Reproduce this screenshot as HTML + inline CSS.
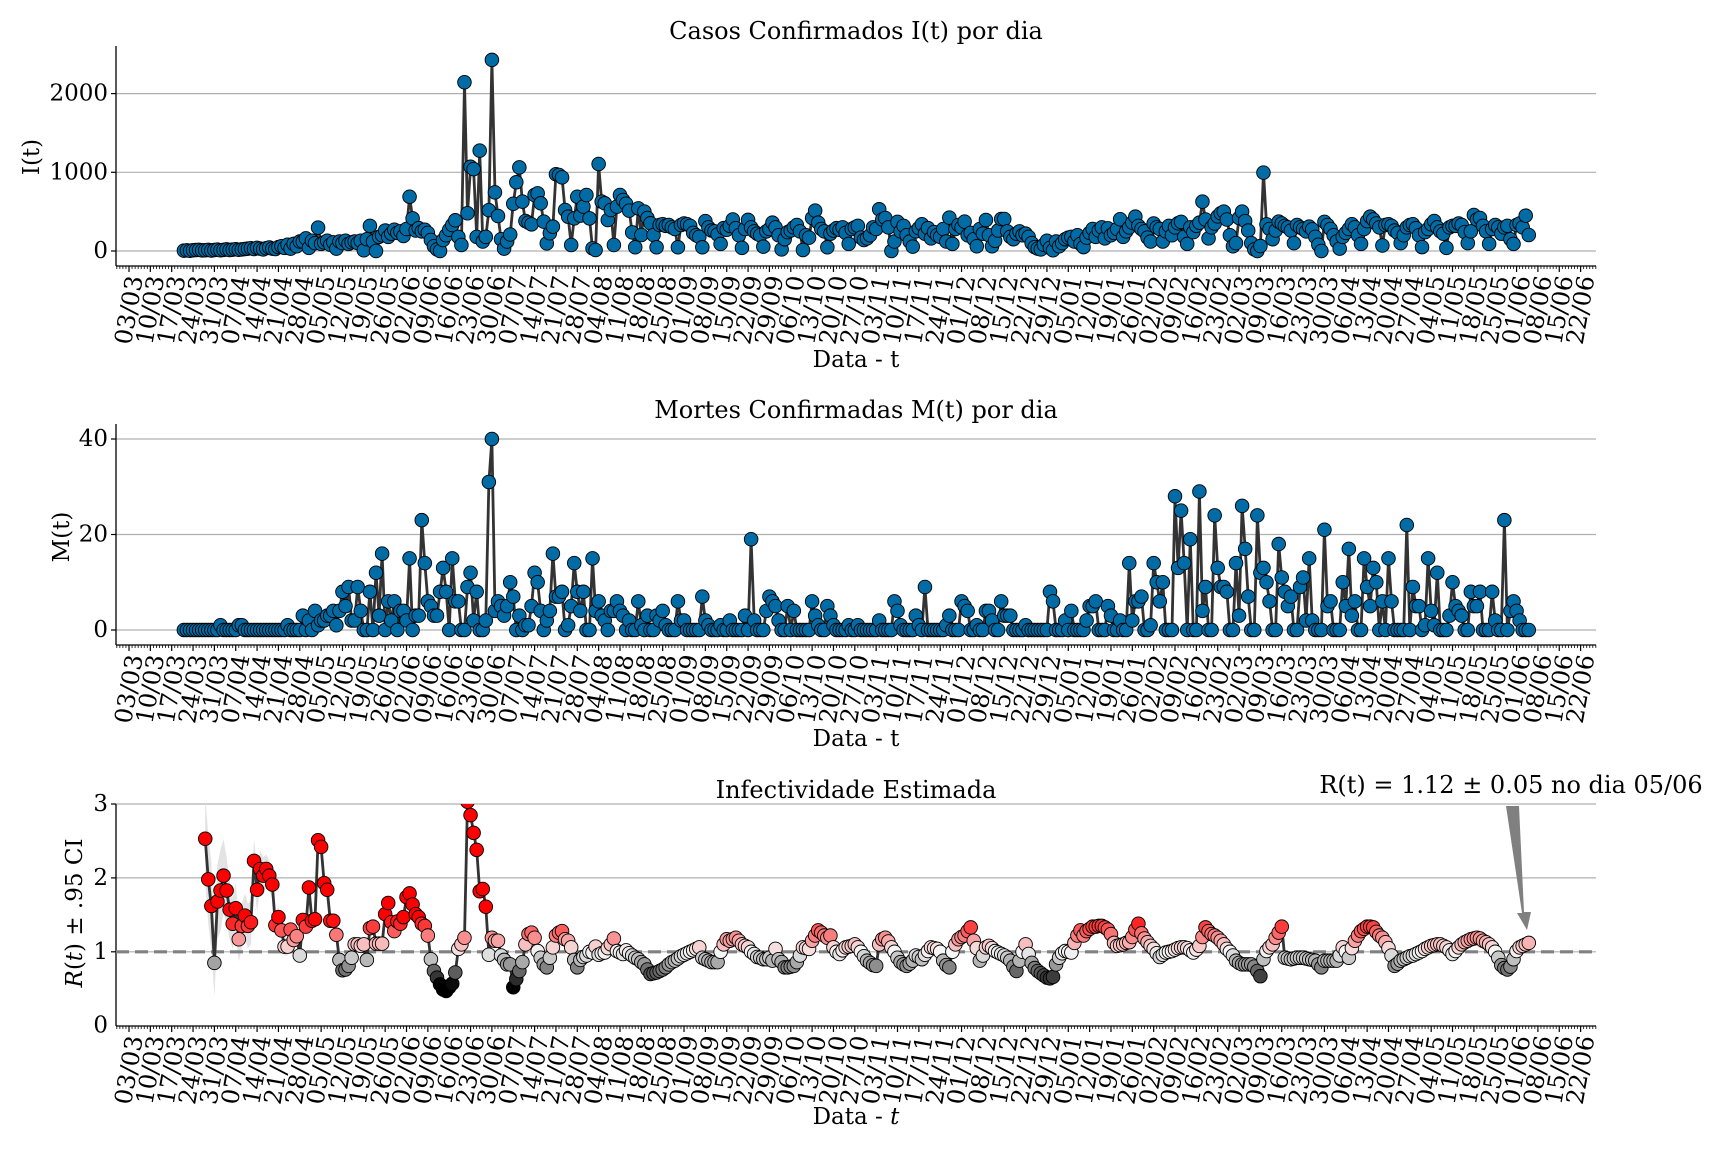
<!DOCTYPE html>
<html><head><meta charset="utf-8"><title>Casos, Mortes e Infectividade</title>
<style>
html,body{margin:0;padding:0;background:#fff;}
svg{display:block;font-family:"DejaVu Serif","Liberation Serif",serif;}
</style></head>
<body>
<svg id="chart" xmlns="http://www.w3.org/2000/svg" width="1728" height="1152" viewBox="0 0 1728 1152">
<rect x="0" y="0" width="1728" height="1152" fill="#fff"/>
<defs><clipPath id="clipR"><rect x="116" y="804" width="1480" height="222"/></clipPath></defs>
<g id="p1"></g>
<g id="p2"></g>
<g id="p3"></g>
<text x="856" y="39" font-size="24" text-anchor="middle">Casos Confirmados I(t) por dia</text>
<text x="856" y="418" font-size="24" text-anchor="middle">Mortes Confirmadas M(t) por dia</text>
<text x="856" y="798" font-size="24" text-anchor="middle">Infectividade Estimada</text>
<text x="1511" y="793" font-size="24" text-anchor="middle">R(t) = 1.12 ± 0.05 no dia 05/06</text>
<polygon points="1506,806 1519,806 1524,912 1531,912 1527,930 1517,913 1522,913" fill="#808080"/>
<text x="856" y="367" font-size="23" text-anchor="middle">Data - t</text>
<text x="856" y="746" font-size="23" text-anchor="middle">Data - t</text>
<text x="856" y="1124" font-size="23" text-anchor="middle">Data - <tspan font-style="italic">t</tspan></text>
<text transform="translate(39,157) rotate(-90)" font-size="23" text-anchor="middle">I(t)</text>
<text transform="translate(69,537) rotate(-90)" font-size="23" text-anchor="middle">M(t)</text>
<text transform="translate(82,913) rotate(-90)" font-size="23" text-anchor="middle"><tspan font-style="italic">R</tspan>(<tspan font-style="italic">t</tspan>) ± .95 CI</text>
</svg>
<script>
// ---- data ----
const iStartDay = 18; // days after 03/03/2020
const casesI = [
5,8,3,10,12,15,8,10,14,6,12,18,10,15,20,12,18,22,16,20,25,
30,35,25,40,30,20,35,45,30,25,50,
60,40,80,30,90,60,120,
120,160,40,130,100,297,90,
110,130,80,110,30,120,100,
130,90,110,120,100,130,
10,150,320,120,0,180,200,
260,180,220,270,230,250,190,
280,690,415,260,290,250,270,
230,140,60,20,0,140,200,
270,330,390,180,76,2144,480,
1070,1040,180,1275,120,180,520,
2428,745,445,150,30,120,210,
600,873,1063,627,381,360,339,
712,733,606,373,97,225,309,
975,966,936,521,436,76,415,
690,450,564,712,415,34,13,
1106,627,606,394,521,76,564,
712,648,600,513,237,47,542,
203,500,420,352,203,47,330,
340,320,330,300,280,47,330,
350,340,320,230,200,180,47,
380,300,260,250,210,90,290,
270,320,400,290,200,40,280,
395,300,250,220,200,55,250,
280,360,300,200,20,150,240,
260,300,330,250,13,200,170,
420,513,360,280,250,47,220,
260,290,270,300,230,90,280,
300,320,170,140,160,200,300,
280,530,400,420,300,0,120,
370,250,320,200,120,55,250,
290,340,220,290,160,240,200,
180,280,120,424,90,280,330,
300,373,200,230,150,60,280,
220,394,200,60,130,260,407,
407,250,180,150,220,250,200,
220,180,100,50,30,20,80,
130,40,10,120,60,100,150,
170,180,120,200,90,50,170,
230,280,180,260,300,160,288,
200,230,280,403,180,250,300,
360,436,320,280,250,170,120,
350,300,280,120,250,320,200,
300,352,370,180,90,300,240,
320,360,627,400,160,300,350,
440,480,500,400,200,60,100,
420,500,380,260,100,20,0,
63,996,339,280,150,260,373,
350,320,300,260,100,330,300,
280,250,310,275,180,80,0,
370,330,280,200,120,30,180,
230,280,340,300,200,90,280,
380,436,400,350,300,70,330,
340,320,260,230,100,200,300,
330,340,290,200,50,240,280,
340,381,300,250,220,40,300,
320,320,350,330,240,100,250,
458,400,420,320,250,90,280,
330,300,220,300,320,150,90,
330,350,300,449,203
];
const deathsM = [
0,0,0,0,0,0,0,
0,0,0,0,0,1,0,
0,0,0,0,1,1,0,
0,0,0,0,0,0,0,
0,0,0,0,0,0,1,
0,0,0,0,3,0,2,
0,4,1,2,2,3,3,
4,1,4,8,5,9,2,
2,9,4,0,0,8,0,
12,3,16,0,6,2,6,
0,4,4,2,15,0,3,
3,23,14,6,5,3,3,
8,13,8,0,15,6,6,
0,0,9,12,2,8,0,
0,2,31,40,4,6,5,
3,5,10,7,0,3,0,
1,1,5,12,10,4,0,
2,4,16,7,7,8,0,
1,5,14,8,4,8,0,
0,15,4,6,3,2,0,
4,4,6,4,3,0,2,
0,0,6,1,0,3,0,
0,3,2,4,1,0,0,
0,6,2,2,0,0,0,
0,0,7,2,1,0,0,
0,1,0,0,2,0,0,
0,0,3,0,19,2,0,
0,0,4,7,6,5,2,
0,0,5,0,4,0,0,
0,0,0,6,3,1,0,
0,5,3,1,0,0,0,
0,1,0,0,1,0,0,
0,0,0,0,2,0,0,
0,0,6,4,1,0,0,
0,0,3,1,0,9,0,
0,0,0,0,0,1,3,
0,0,0,6,5,4,0,
0,1,0,0,4,4,2,
0,0,6,3,3,3,0,
0,0,0,1,0,0,0,
0,0,0,0,8,6,0,
0,0,2,0,4,0,0,
0,0,2,5,5,6,0,
0,0,5,3,0,0,2,
0,0,14,2,6,6,7,
0,0,1,14,10,6,10,
0,0,0,28,13,25,14,
0,19,0,0,29,4,9,
0,0,24,13,9,9,8,
0,0,14,3,26,17,7,
0,0,24,12,13,10,6,
0,0,18,11,8,5,7,
0,0,9,11,2,15,2,
0,0,0,21,5,6,0,
0,0,10,5,17,3,6,
0,0,15,9,5,13,10,
0,6,0,15,6,0,0,
0,0,22,0,9,5,5,
0,1,15,4,1,12,0,
0,0,3,10,5,4,3,
0,0,8,5,5,8,0,
0,0,8,2,0,0,23,
0,4,6,4,2,0,0,
0
];
const rStartDay = 25;
const rValues = [
2.53,1.98,1.62,0.85,1.68,1.83,2.03,1.83,1.57,1.38,1.59,1.17,1.35,1.49,1.35,1.40,2.23,1.84,2.12,2.03,2.12,2.03,1.91,1.36,1.47,1.29,1.07,1.07,1.30,1.16,1.21,
0.95,1.43,1.34,1.87,1.42,1.44,2.51,2.42,1.93,1.84,1.42,1.42,1.23,0.89,0.75,0.76,0.81,0.92,1.10,1.10,1.08,1.10,0.89,1.32,1.34,1.11,1.11,1.11,1.51,1.66,1.40,1.28,1.41,1.38,1.47,1.74,1.79,1.64,1.51,1.47,1.38,1.35,1.22,0.90,0.74,0.65,0.56,0.49,0.47,0.52,0.57,0.72,1.04,1.10,1.19,3.03,2.85,2.61,2.38,1.82,1.85,1.61,0.96,1.19,1.15,1.15,0.95,0.89,0.83,0.83,0.52,0.63,0.74,0.86,1.10,1.24,1.26,1.19,1.01,0.92,0.83,0.79,0.92,1.06,1.22,1.26,1.28,1.17,1.15,1.06,
0.89,0.79,0.89,0.93,0.95,1.00,0.99,1.07,0.96,0.98,0.99,1.05,1.10,1.18,1.01,0.99,0.97,1.02,0.98,0.95,0.92,0.90,0.86,0.83,0.76,0.70,0.71,0.72,0.74,0.76,0.79,0.83,0.86,0.88,0.91,0.94,0.96,0.98,1.00,1.02,
1.04,1.06,0.92,0.90,0.88,0.86,0.86,0.86,1.00,1.10,1.17,1.15,1.17,1.19,1.15,1.10,1.08,1.06,1.00,0.97,0.93,0.92,0.90,0.90,0.92,0.88,1.04,0.90,0.86,0.79,0.79,0.80,0.81,0.86,0.95,1.06,1.05,1.04,1.15,1.22,1.29,1.26,1.22,1.19,1.22,1.06,1.00,0.97,1.02,1.06,1.07,1.08,1.10,
1.06,1.00,0.94,0.88,0.85,0.82,0.81,1.10,1.17,1.19,1.14,1.06,1.00,0.92,0.86,0.83,0.81,0.84,0.88,0.95,0.93,0.90,0.96,1.01,1.06,1.05,1.04,1.00,0.88,0.82,0.79,1.00,1.10,1.17,1.20,1.22,1.28,1.33,1.15,1.05,0.88,0.95,1.06,1.08,1.05,1.01,0.99,0.97,0.95,0.92,0.88,0.80,0.74,0.88,1.00,1.10,0.97,0.85,0.78,0.74,0.71,0.68,0.65,0.64,0.66,0.83,0.92,0.98,1.01,1.00,0.99,1.12,1.22,1.29,1.22,1.28,1.31,1.34,1.34,1.35,1.35,1.33,1.30,1.24,1.12,1.08,1.09,1.10,1.12,1.13,1.20,1.30,1.38,1.25,1.18,1.13,1.08,1.04,0.98,0.93,0.96,0.99,1.00,1.01,1.03,1.05,1.06,1.06,1.05,1.02,0.99,1.03,1.08,1.20,1.33,1.28,1.24,1.22,1.19,1.15,1.10,1.04,1.00,0.95,0.88,0.85,0.83,0.83,0.83,0.83,0.80,0.74,0.67,0.90,1.01,1.06,1.10,1.19,1.26,1.34,0.92,0.91,0.90,0.91,0.92,0.92,0.92,0.91,0.90,0.89,0.88,0.83,0.79,0.88,0.88,0.88,0.88,0.88,0.95,1.06,1.00,0.92,1.05,1.15,1.22,1.28,1.31,1.34,1.34,1.33,1.27,1.22,1.19,1.13,1.05,0.95,0.81,0.84,0.88,0.90,0.92,0.94,0.95,0.97,0.99,1.01,1.04,1.06,1.08,1.09,1.10,1.10,1.08,1.06,1.02,0.97,1.01,1.06,1.10,1.13,1.15,1.17,1.18,1.19,1.18,1.15,1.13,1.10,1.06,1.00,0.92,0.82,0.78,0.76,0.80,0.90,1.01,1.06,1.08,1.10,1.12
];
const rCiHalf = [0.6,0.6,0.6,0.45,0.5,0.55,0.5,0.45,0.4,0.35,0.35,0.3,0.3,0.3,0.3,0.3,0.3,0.3,0.25,0.25,0.2,0.2,0.2,0.15,0.15,0.15,0.12,0.12,0.12,0.1,0.1,0.1,0.1,0.1,0.1,0.1];
const yTicksI = [0,1000,2000];
const yTicksM = [0,20,40];
const yTicksR = [0,1,2,3];

// ---- axes ----
const NS = 'http://www.w3.org/2000/svg';
const X0 = 116, X1 = 1596;
function xDay(d){ return 129 + d * 3.0496; }
function yI(v){ return 251 - v * 0.0787; }
function yM(v){ return 630 - v * 4.775; }
function yR(v){ return 1025.7 - v * 73.9; }
function mk(tag, attrs, parent){
  const e = document.createElementNS(NS, tag);
  for (const k in attrs) e.setAttribute(k, attrs[k]);
  parent.appendChild(e);
  return e;
}
function rColor(r){
  if (r >= 1){
    const t = Math.min((r - 1) / 0.45, 1);
    const gb = Math.round(245 * (1 - t));
    return 'rgb(' + Math.round(245 + 10 * t) + ',' + gb + ',' + gb + ')';
  }
  const t = Math.min((1 - r) / 0.45, 1);
  const g = Math.round(245 * (1 - t));
  return 'rgb(' + g + ',' + g + ',' + g + ')';
}
function pad(n){ return (n < 10 ? '0' : '') + n; }

function drawAxes(g, spineY, topY, ticks, yf, prefix){
  ticks.forEach(function(t){
    const y = yf(t);
    const gl = mk('line', {x1:X0, x2:X1, y1:y, y2:y, stroke:'#b0b0b0', 'stroke-width':1.2}, g);
    
    
    const tk = mk('line', {x1:X0-5, x2:X0, y1:y, y2:y, stroke:'#000', 'stroke-width':1.2}, g);
    
    
    const lb = mk('text', {x:X0-8, y:y, 'font-size':23, 'text-anchor':'end', 'dominant-baseline':'central'}, g);
    lb.textContent = String(t);
    
    
  });
  const ls = mk('line', {x1:X0, x2:X0, y1:topY, y2:spineY, stroke:'#000', 'stroke-width':1.3}, g);
  
  
  const bs = mk('line', {x1:X0, x2:X1, y1:spineY, y2:spineY, stroke:'#000', 'stroke-width':1.3}, g);
  
  
  for (let d = -4; d <= 481; d++){
    const x = xDay(d);
    if (x < X0 || x > X1) continue;
    const major = (d % 7 === 0 && d >= 0);
    const t = mk('line', {x1:x, x2:x, y1:spineY, y2:spineY + (major ? 6 : 3), stroke:'#000', 'stroke-width':major ? 1.2 : 0.8}, g);
    
    
  }
  for (let k = 0; k <= 68; k++){
    const d = k * 7;
    const dt = new Date(Date.UTC(2020, 2, 3 + d));
    const label = pad(dt.getUTCDate()) + '/' + pad(dt.getUTCMonth() + 1);
    const x = xDay(d) + 6;
    const tl = mk('text', {transform:'translate(' + x + ',' + (spineY + 10) + ') rotate(-80)', 'font-size':24, 'text-anchor':'end', 'dominant-baseline':'central'}, g);
    tl.textContent = label;
    
    
  }
}

function drawSeries(g, values, startDay, yf, prefix){
  let pts = values.map(function(v, i){ return xDay(startDay + i).toFixed(1) + ',' + yf(v).toFixed(1); }).join(' ');
  const pl = mk('polyline', {points:pts, fill:'none', stroke:'#333', 'stroke-width':2.8, 'stroke-linejoin':'round'}, g);
  
  
  values.forEach(function(v, i){
    const c = mk('circle', {cx:xDay(startDay + i), cy:yf(v), r:6.8, fill:'#006ba4', stroke:'#000', 'stroke-width':0.9}, g);
    
    
  });
}

// Panel 1
const p1 = document.getElementById('p1');
drawAxes(p1, 266, 46, yTicksI, yI, 'cases');
drawSeries(p1, casesI, iStartDay, yI, 'cases');

// Panel 2
const p2 = document.getElementById('p2');
drawAxes(p2, 645, 424, yTicksM, yM, 'deaths');
drawSeries(p2, deathsM, iStartDay, yM, 'deaths');

// Panel 3
const p3 = document.getElementById('p3');
drawAxes(p3, 1026, 804, yTicksR.filter(function(t){ return t > 0; }), yR, 'rt');
const zl = mk('text', {x:X0-8, y:yR(0), 'font-size':23, 'text-anchor':'end', 'dominant-baseline':'central'}, p3);
zl.textContent = '0';


const clipG = mk('g', {'clip-path':'url(#clipR)'}, p3);


// CI band
let upper = [], lower = [];
rCiHalf.forEach(function(h, i){
  const x = xDay(rStartDay + i).toFixed(1);
  upper.push(x + ',' + yR(rValues[i] + h).toFixed(1));
  lower.unshift(x + ',' + yR(Math.max(rValues[i] - h, 0)).toFixed(1));
});
const band = mk('polygon', {points:upper.concat(lower).join(' '), fill:'#e3e3e3'}, clipG);


const ref = mk('line', {x1:X0, x2:X1, y1:yR(1), y2:yR(1), stroke:'#808080', 'stroke-width':3.2, 'stroke-dasharray':'13,6'}, clipG);


const rpts = rValues.map(function(v, i){ return xDay(rStartDay + i).toFixed(1) + ',' + yR(v).toFixed(1); }).join(' ');
const rl = mk('polyline', {points:rpts, fill:'none', stroke:'#333', 'stroke-width':2.8, 'stroke-linejoin':'round'}, clipG);


rValues.forEach(function(v, i){
  const c = mk('circle', {cx:xDay(rStartDay + i), cy:yR(v), r:6.8, fill:rColor(v), stroke:'#000', 'stroke-width':0.9}, clipG);
  
  
});
</script>
</body></html>
